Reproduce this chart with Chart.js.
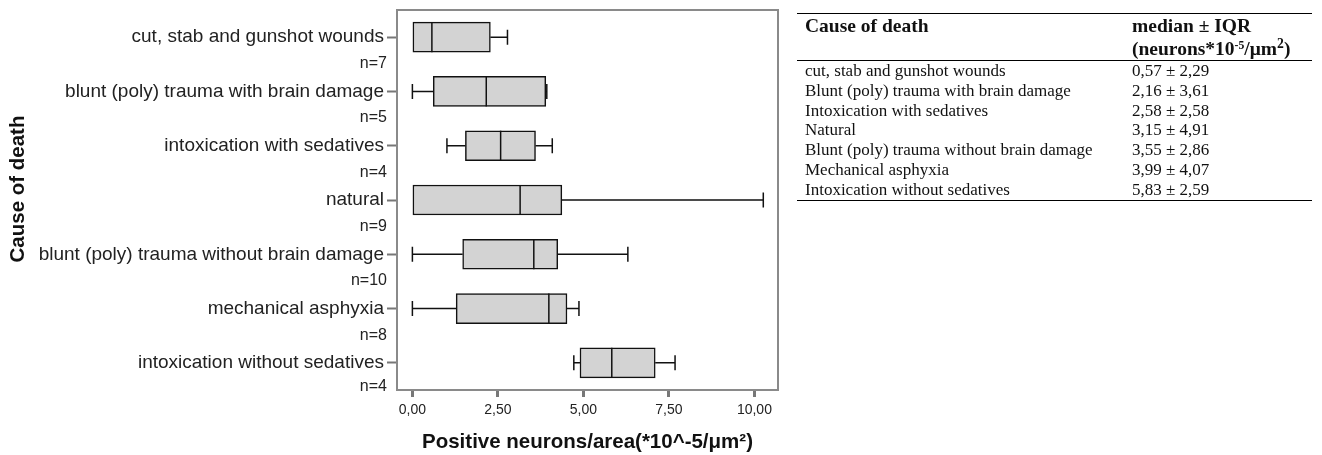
<!DOCTYPE html>
<html><head><meta charset="utf-8">
<script src="https://cdn.jsdelivr.net/npm/chart.js@4"></script>
<style>
html,body{margin:0;padding:0;background:#fff;}
#wrap{position:relative;width:1322px;height:455px;overflow:hidden;}
#c{position:absolute;left:0;top:0;}
#tbl{position:absolute;left:797px;top:13px;width:515px;border-collapse:collapse;font-family:"Liberation Serif","Times New Roman",serif;color:#111;}
#tbl th{font-size:19.5px;font-weight:bold;text-align:left;vertical-align:top;line-height:23px;padding:0;border-top:1px solid #000;border-bottom:1px solid #000;}
#tbl td{font-size:17px;line-height:19.8px;height:19.8px;padding:0;white-space:nowrap;}
#tbl .c1{padding-left:8px;width:327px;}
#tbl tr.last td{border-bottom:1px solid #000;}
#tbl sup{font-size:0.6em;line-height:0;vertical-align:0.55em;}
#tbl sup.b{font-size:0.7em;}
</style></head><body>
<div id="wrap">
<canvas id="c" width="800" height="455"></canvas>
<table id="tbl"><thead><tr><th class="c1">Cause of death</th><th>median ± IQR<br>(neurons*10<sup>-5</sup>/μm<sup class="b">2</sup>)</th></tr></thead><tbody id="tb"></tbody></table>
</div>
<script>
// ---- data ----
const categories = ["cut, stab and gunshot wounds", "blunt (poly) trauma with brain damage", "intoxication with sedatives", "natural", "blunt (poly) trauma without brain damage", "mechanical asphyxia", "intoxication without sedatives"];
const nCounts = [7, 5, 4, 9, 10, 8, 4];
const whiskerMin = [0.00, 0.00, 1.01, 0.00, 0.00, 0.00, 4.72];
const quartile1 = [0.00, 0.61, 1.55, 0.00, 1.47, 1.28, 4.90];
const medians = [0.57, 2.16, 2.58, 3.15, 3.55, 3.99, 5.83];
const quartile3 = [2.28, 3.90, 3.60, 4.37, 4.25, 4.52, 7.10];
const whiskerMax = [2.78, 3.93, 4.09, 10.26, 6.30, 4.87, 7.68];
const xTicks = [0, 2.5, 5, 7.5, 10];
const xTitle = "Positive neurons/area(*10^-5/μm²)";
const yTitle = "Cause of death";
const tableCauses = ["cut, stab and gunshot wounds", "Blunt (poly) trauma with brain damage", "Intoxication with sedatives", "Natural", "Blunt (poly) trauma without brain damage", "Mechanical asphyxia", "Intoxication without sedatives"];
const tableMedian = [0.57, 2.16, 2.58, 3.15, 3.55, 3.99, 5.83];
const tableIQR = [2.29, 3.61, 2.58, 4.91, 2.86, 4.07, 2.59];

// ---- table ----
const fmt = v => v.toFixed(2).replace('.', ',');
const tb = document.getElementById('tb');
tableCauses.forEach((c, i) => {
  const tr = document.createElement('tr');
  if (i === tableCauses.length - 1) tr.className = 'last';
  const a = document.createElement('td'); a.className = 'c1'; a.textContent = c;
  const b = document.createElement('td'); b.textContent = fmt(tableMedian[i]) + ' ± ' + fmt(tableIQR[i]);
  tr.appendChild(a); tr.appendChild(b); tb.appendChild(tr);
});

// ---- chart ----
Chart.defaults.font.family = '"Liberation Sans", Arial, Helvetica, sans-serif';
Chart.defaults.color = '#222';

const boxParts = {
  id: 'boxParts',
  beforeDatasetsDraw(chart) {
    const {ctx, scales: {x, y}} = chart;
    ctx.save();
    ctx.strokeStyle = '#111';
    ctx.lineWidth = 1.5;
    categories.forEach((c, i) => {
      const yc = y.getPixelForValue(i);
      const xMin = x.getPixelForValue(whiskerMin[i]);
      const xQ1 = x.getPixelForValue(quartile1[i]);
      const xQ3 = x.getPixelForValue(quartile3[i]);
      const xMax = x.getPixelForValue(whiskerMax[i]);
      ctx.beginPath();
      if (whiskerMin[i] < quartile1[i]) {
        ctx.moveTo(xMin, yc); ctx.lineTo(xQ1, yc);
        ctx.moveTo(xMin, yc - 7.5); ctx.lineTo(xMin, yc + 7.5);
      }
      if (whiskerMax[i] > quartile3[i]) {
        ctx.moveTo(xQ3, yc); ctx.lineTo(xMax, yc);
        ctx.moveTo(xMax, yc - 7.5); ctx.lineTo(xMax, yc + 7.5);
      }
      ctx.stroke();
    });
    ctx.restore();
  },
  afterDatasetsDraw(chart) {
    const {ctx, scales: {x, y}} = chart;
    const meta = chart.getDatasetMeta(0);
    ctx.save();
    ctx.strokeStyle = '#111';
    ctx.lineWidth = 1.5;
    categories.forEach((c, i) => {
      const yc = y.getPixelForValue(i);
      const h = meta.data[i].height;
      const xm = x.getPixelForValue(medians[i]);
      ctx.beginPath();
      ctx.moveTo(xm, yc - h / 2); ctx.lineTo(xm, yc + h / 2);
      ctx.stroke();
    });
    ctx.restore();
  },
  afterDraw(chart) {
    const {ctx, chartArea: a, scales: {y}} = chart;
    ctx.save();
    ctx.strokeStyle = '#8a8a8a';
    ctx.lineWidth = 2;
    ctx.strokeRect(a.left, a.top, a.right - a.left, a.bottom - a.top);
    ctx.fillStyle = '#222';
    ctx.font = '16px "Liberation Sans", Arial, sans-serif';
    ctx.textAlign = 'right';
    ctx.textBaseline = 'middle';
    nCounts.forEach((n, i) => {
      ctx.fillText('n=' + n, a.left - 10, y.getPixelForValue(i + (i === nCounts.length - 1 ? 0.43 : 0.49)));
    });
    ctx.translate(18, 189);
    ctx.rotate(-Math.PI / 2);
    ctx.font = 'bold 20.5px "Liberation Sans", Arial, sans-serif';
    ctx.textAlign = 'center';
    ctx.fillStyle = '#111';
    ctx.fillText(yTitle, 0, 0);
    ctx.restore();
  }
};

new Chart(document.getElementById('c'), {
  type: 'bar',
  data: {
    labels: categories,
    datasets: [{
      data: categories.map((c, i) => [quartile1[i], quartile3[i]]),
      backgroundColor: '#d3d3d3',
      borderColor: '#111',
      borderWidth: 1.5,
      borderSkipped: false,
      barThickness: 30
    }]
  },
  options: {
    indexAxis: 'y',
    responsive: false,
    animation: false,
    layout: {padding: {top: 10, right: 22, bottom: 0, left: 0}},
    plugins: {legend: {display: false}, tooltip: {enabled: false}},
    scales: {
      x: {
        type: 'linear',
        min: -0.45,
        max: 10.69,
        afterBuildTicks: s => { s.ticks = xTicks.map(v => ({value: v})); },
        afterFit: s => { s.height = 65; s.paddingLeft = 0; s.paddingRight = 0; },
        grid: {drawOnChartArea: false, drawTicks: true, tickLength: 7, tickWidth: 3, tickColor: '#777'},
        border: {display: false},
        ticks: {font: {size: 14}, color: '#222', padding: 5, maxRotation: 0, autoSkip: false, callback: v => fmt(v)},
        title: {display: true, text: xTitle, font: {size: 20.5, weight: 'bold'}, color: '#111', padding: {top: 4, bottom: 0}}
      },
      y: {
        type: 'category',
        offset: true,
        afterFit: s => { s.width = 397; s.paddingTop = 0; s.paddingBottom = 0; },
        grid: {drawOnChartArea: false, offset: false, drawTicks: true, tickLength: 10, tickWidth: 2, tickColor: '#777'},
        border: {display: false},
        ticks: {font: {size: 19}, color: '#222', padding: 3, autoSkip: false}
      }
    }
  },
  plugins: [boxParts]
});
</script>
</body></html>
